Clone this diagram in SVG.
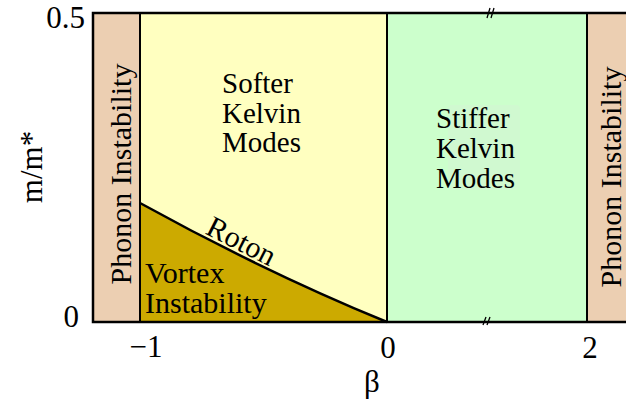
<svg xmlns="http://www.w3.org/2000/svg" width="626" height="408" viewBox="0 0 626 408">
<style>
text{font-family:'Liberation Serif','Times New Roman',serif;font-size:30px;fill:#000}
.s29{font-size:29px}
.ax{font-size:31px}
.frame{stroke:#000;stroke-width:2.5;fill:none}
.brk{stroke:#000;stroke-width:1.3;fill:none}
</style>
<rect width="626" height="408" fill="#fff"/>
<g id="phonon-left">
<rect x="93" y="13" width="47" height="309" fill="#eccfb2"/>
<text transform="translate(131,174) rotate(-90)" text-anchor="middle">Phonon Instability</text>
</g>
<g id="softer">
<rect x="140" y="13" width="247" height="309" fill="#ffffc0"/>
<text class="s29" x="222" y="93">Softer</text>
<text class="s29" x="222" y="123">Kelvin</text>
<text class="s29" x="222" y="152">Modes</text>
</g>
<g id="vortex">
<path d="M140,203 Q264,271.5 387,322 L140,322 Z" fill="#ccaa00"/>
<text x="145" y="283">Vortex</text>
<text x="145" y="313">Instability</text>
</g>
<g id="stiffer">
<rect x="387" y="13" width="200" height="309" fill="#ccffcc"/>
<rect x="448" y="105" width="72" height="85" rx="4" fill="#d0f9d0"/>
<text class="s29" x="436" y="128">Stiffer</text>
<text class="s29" x="436" y="158">Kelvin</text>
<text class="s29" x="436" y="188">Modes</text>
</g>
<g id="phonon-right">
<rect x="587" y="13" width="39" height="309" fill="#eccfb2"/>
<text transform="translate(621,177) rotate(-90)" text-anchor="middle">Phonon Instability</text>
</g>
<g id="connectors">
<path d="M140,203 Q264,271.5 387,322" stroke="#000" stroke-width="2.5" fill="none"/>
<text transform="translate(237,250) rotate(27)" text-anchor="middle">Roton</text>
</g>
<g id="axes">
<path class="frame" d="M626,13 H93 V322 H626"/>
<path stroke="#000" stroke-width="2" d="M140,13 V322 M387,13 V322 M587,13 V322"/>
<path class="brk" d="M487,18 L490,8 M491,18 L494,8 M483,325 L486,317 M487,325 L490,317"/>
<text class="ax" x="85" y="28" text-anchor="end">0.5</text>
<text class="ax" x="79" y="327" text-anchor="end">0</text>
<text class="ax" x="146" y="357" text-anchor="middle">−1</text>
<text class="ax" x="388" y="358" text-anchor="middle">0</text>
<text class="ax" x="590" y="358" text-anchor="middle">2</text>
<text class="ax" x="372" y="392" text-anchor="middle">β</text>
<text class="ax" transform="translate(42,167) rotate(-90)" text-anchor="middle">m/m*</text>
</g>
</svg>
